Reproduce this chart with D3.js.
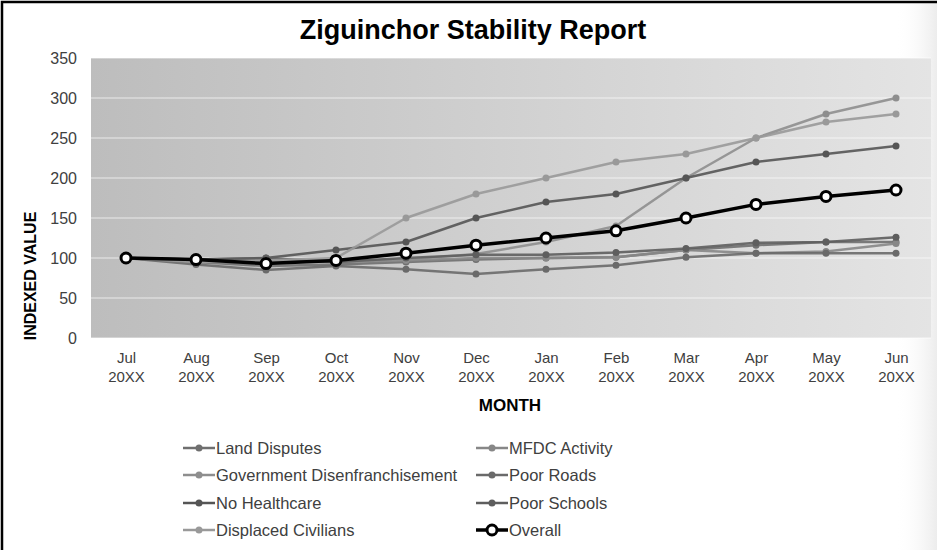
<!DOCTYPE html>
<html>
<head>
<meta charset="utf-8">
<script src="https://cdn.jsdelivr.net/npm/d3@7"></script>
<style>
  body { margin: 0; background: #fff; }
  svg { display: block; font-family: "Liberation Sans", Arial, sans-serif; }
</style>
</head>
<body>
<svg id="chart" width="937" height="550"></svg>
<script>
// Month labels (two lines each)
const months = ['Jul', 'Aug', 'Sep', 'Oct', 'Nov', 'Dec', 'Jan', 'Feb', 'Mar', 'Apr', 'May', 'Jun'];
const yearLabel = '20XX';
const yTicks = [0, 50, 100, 150, 200, 250, 300, 350];

// Series values
const landDisputes      = [100, 95, 90, 92, 95, 98, 100, 101, 110, 116, 120, 120];
const mfdcActivity      = [100, 97, 97, 95, 97, 100, 100, 101, 110, 106, 108, 118];
const govDisenfranchise = [100, 95, 95, 97, 98, 105, 120, 140, 200, 250, 280, 300];
const poorRoads         = [100, 92, 85, 90, 86, 80, 86, 91, 101, 106, 106, 106];
const noHealthcare      = [100, 98, 100, 110, 120, 150, 170, 180, 200, 220, 230, 240];
const poorSchools       = [100, 98, 100, 95, 100, 104, 104, 107, 112, 119, 120, 126];
const displacedCivilians= [100, 95, 97, 100, 150, 180, 200, 220, 230, 250, 270, 280];
const overall           = [100, 98, 93, 97, 106, 116, 125, 134, 150, 167, 177, 185];

const seriesNames = ['Land Disputes', 'MFDC Activity', 'Government Disenfranchisement', 'Poor Roads',
                     'No Healthcare', 'Poor Schools', 'Displaced Civilians', 'Overall'];
const seriesValues = [landDisputes, mfdcActivity, govDisenfranchise, poorRoads,
                      noHealthcare, poorSchools, displacedCivilians, overall];
const seriesColors = ['#6f6f6f', '#878787', '#8e8e8e', '#6a6a6a', '#555555', '#5e5e5e', '#999999', '#000000'];

const width = 937;
const height = 550;
const plot = { left: 91, right: 931, top: 58, bottom: 338 };

const svg = d3.select('#chart');
const defs = svg.append('defs');

// Plot background gradient (dark grey left, light grey right)
const bg = defs.append('linearGradient').attr('id', 'plotBg')
    .attr('x1', '0%').attr('x2', '100%').attr('y1', '0%').attr('y2', '0%');
bg.append('stop').attr('offset', '0%').attr('stop-color', '#bdbdbd');
bg.append('stop').attr('offset', '100%').attr('stop-color', '#e4e4e4');

// Soft shading at the right edge of the chart
const shade = defs.append('linearGradient').attr('id', 'edgeShade')
    .attr('x1', '0%').attr('x2', '100%').attr('y1', '0%').attr('y2', '0%');
shade.append('stop').attr('offset', '0%').attr('stop-color', '#ffffff').attr('stop-opacity', 0);
shade.append('stop').attr('offset', '100%').attr('stop-color', '#ececec').attr('stop-opacity', 1);

svg.append('rect').attr('x', 895).attr('y', 3).attr('width', 42).attr('height', 547)
    .attr('fill', 'url(#edgeShade)');

// Outer border
svg.append('rect').attr('x', 2).attr('y', 2).attr('width', 960).attr('height', 580)
    .attr('fill', 'none').attr('stroke', '#000').attr('stroke-width', 2.5);

// Scales
const x = d3.scalePoint().domain(months).range([plot.left, plot.right]).padding(0.5);
const y = d3.scaleLinear().domain([0, 350]).range([plot.bottom, plot.top]);

svg.append('rect')
    .attr('x', plot.left).attr('y', plot.top)
    .attr('width', plot.right - plot.left).attr('height', plot.bottom - plot.top)
    .attr('fill', 'url(#plotBg)');

// Gridlines
svg.append('g')
    .selectAll('line')
    .data(yTicks)
    .join('line')
    .attr('x1', plot.left).attr('x2', plot.right)
    .attr('y1', d => y(d)).attr('y2', d => y(d))
    .attr('stroke', '#ffffff').attr('stroke-opacity', 0.45).attr('stroke-width', 1.5);

// Y axis labels
const yAxis = svg.append('g')
    .attr('transform', `translate(${plot.left - 14},0)`)
    .call(d3.axisLeft(y).tickValues(yTicks).tickSize(0).tickPadding(0));
yAxis.select('.domain').remove();
yAxis.selectAll('text')
    .attr('font-size', 16).attr('fill', '#404040')
    .attr('font-family', '"Liberation Sans", Arial, sans-serif');

// X axis labels (month + year)
const xAxis = svg.append('g')
    .attr('transform', `translate(0,${plot.bottom})`)
    .call(d3.axisBottom(x).tickSize(0).tickFormat(''));
xAxis.select('.domain').remove();
xAxis.selectAll('.tick').each(function(d) {
    const t = d3.select(this).append('text')
        .attr('fill', '#404040').attr('font-size', 15).attr('text-anchor', 'middle')
        .attr('font-family', '"Liberation Sans", Arial, sans-serif');
    t.append('tspan').attr('x', 0).attr('y', 25).text(d);
    t.append('tspan').attr('x', 0).attr('y', 44).text(yearLabel);
});

// Title and axis titles
svg.append('text')
    .attr('x', 473).attr('y', 39)
    .attr('text-anchor', 'middle')
    .attr('font-size', 27).attr('font-weight', 'bold').attr('fill', '#000')
    .text('Ziguinchor Stability Report');

svg.append('text')
    .attr('x', 510).attr('y', 411)
    .attr('text-anchor', 'middle')
    .attr('font-size', 17).attr('font-weight', 'bold').attr('fill', '#000')
    .text('MONTH');

svg.append('text')
    .attr('transform', 'translate(36,276) rotate(-90)')
    .attr('text-anchor', 'middle')
    .attr('font-size', 16).attr('font-weight', 'bold').attr('fill', '#000')
    .text('INDEXED VALUE');

// Lines
const line = d3.line()
    .x((d, i) => x(months[i]))
    .y(d => y(d));

const seriesData = seriesNames.map((name, i) => ({
    name: name, values: seriesValues[i], color: seriesColors[i], overall: name === 'Overall'
}));

const groups = svg.append('g')
    .selectAll('g')
    .data(seriesData)
    .join('g');

groups.append('path')
    .attr('d', d => line(d.values))
    .attr('fill', 'none')
    .attr('stroke', d => d.color)
    .attr('stroke-width', d => d.overall ? 3.5 : 2.5)
    .attr('stroke-opacity', d => d.overall ? 1 : 0.9)
    .attr('stroke-linejoin', 'round');

groups.selectAll('circle')
    .data(d => d.values.map((v, i) => ({ v: v, i: i, s: d })))
    .join('circle')
    .attr('cx', d => x(months[d.i]))
    .attr('cy', d => y(d.v))
    .attr('r', d => d.s.overall ? 5 : 3.5)
    .attr('fill', d => d.s.overall ? '#ffffff' : d.s.color)
    .attr('stroke', d => d.s.overall ? '#000' : 'none')
    .attr('stroke-width', d => d.s.overall ? 3 : 0);

// Legend, two columns
const legendCols = [183, 476];
const legendRows = [448, 475, 503, 530];

const legend = svg.append('g')
    .selectAll('g')
    .data(seriesData)
    .join('g')
    .attr('transform', (d, i) => `translate(${legendCols[i % 2]},${legendRows[Math.floor(i / 2)]})`);

legend.append('line')
    .attr('x1', 0).attr('x2', 32).attr('y1', 0).attr('y2', 0)
    .attr('stroke', d => d.color)
    .attr('stroke-width', d => d.overall ? 3.5 : 2.5);

legend.append('circle')
    .attr('cx', 16).attr('cy', 0)
    .attr('r', d => d.overall ? 5 : 3.5)
    .attr('fill', d => d.overall ? '#fff' : d.color)
    .attr('stroke', d => d.overall ? '#000' : 'none')
    .attr('stroke-width', d => d.overall ? 3 : 0);

legend.append('text')
    .attr('x', 33).attr('y', 6)
    .attr('font-size', 16.5).attr('fill', '#404040')
    .text(d => d.name);
</script>
</body>
</html>
